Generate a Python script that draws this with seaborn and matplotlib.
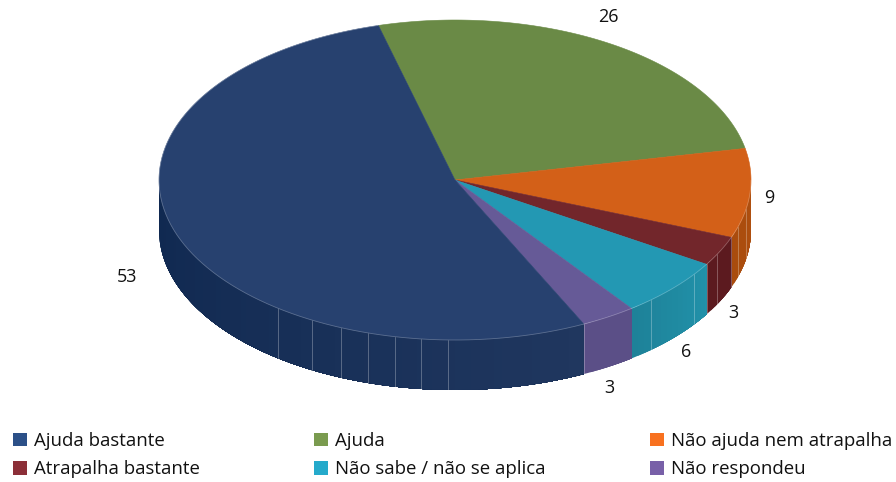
import numpy as np
import matplotlib
matplotlib.use("Agg")
import matplotlib.pyplot as plt
from matplotlib.patches import Patch
from matplotlib.colors import to_rgb
import seaborn as sns

categories = ["Ajuda bastante", "Ajuda", "Não ajuda nem atrapalha",
              "Atrapalha bastante", "Não sabe / não se aplica", "Não respondeu"]
values = [53, 26, 9, 3, 6, 3]
top_colors = ["#27416f", "#6a8a46", "#d36018", "#72262b", "#2398b3", "#665a97"]
side_left = ["#0f2850", "#55702f", "#a94c0d", "#5c1a1f", "#1e8299", "#5b4f87"]
side_right = ["#20375f", "#55702f", "#b05010", "#5c1a1f", "#2192aa", "#5b4f87"]
legend_colors = ["#2c5088", "#7a9b4f", "#f8711f", "#8c2f38", "#25aacb", "#7860a8"]
label_offsets = [(-51, -41), (-3, 27), (19, -5), (13, -62), (13, -64), (1, -71)]
facet_angles = [-126.7, -118.9, -112.6, -107.1, -101.7, -96.6, -91.4,
                -64.2, -48.5, -36.2, -31.8, -27.7, -21.0, -17.0, -10.5]
legend_columns = [(13, [0, 3]), (314, [1, 4]), (650, [2, 5])]

CX, CY, RX, RY, DEPTH = 455, 180, 296, 160, 50

sns.set_theme(style="white")
plt.rcParams["font.family"] = ["Open Sans", "DejaVu Sans"]

fig, ax = plt.subplots(figsize=(8.96, 4.82), dpi=100)
ax.set_position([0, 0, 1, 1])
ax.set_xlim(0, 896)
ax.set_ylim(482, 0)
ax.axis("off")


def rim(deg):
    r = np.radians(deg)
    return CX + RX * np.cos(r), CY - RY * np.sin(r)


# slices run clockwise from the green slice's start at 105 degrees
order = [1, 2, 3, 4, 5, 0]
t = 105.0
spans = {}
for i in order:
    t2 = t - values[i] * 3.6
    spans[i] = (t, t2)
    t = t2

# side walls: overlapping bands, left to right, so no seams show
for i, (a, b) in spans.items():
    hi = min(a, 0.0)
    lo = max(b, -180.0)
    if i == 0:
        hi, lo = a, -180.0
    if hi <= lo:
        continue
    edges = np.arange(lo, hi, 1.5)
    c0 = np.array(to_rgb(side_left[i]))
    c1 = np.array(to_rgb(side_right[i]))
    for e0 in edges:
        f = (e0 - lo) / (hi - lo)
        ang = np.linspace(e0, hi, 60)
        x, y = rim(ang)
        ax.fill(np.r_[x, x[::-1]], np.r_[y, y[::-1] + DEPTH],
                color=c0 + (c1 - c0) * f, lw=0, zorder=2)

for ang in facet_angles:
    x, y = rim(ang)
    ax.plot([x, x], [y, y + DEPTH], color="white", alpha=0.28, lw=0.7, zorder=3)

# top faces
for i, (a, b) in spans.items():
    ang = np.linspace(a, b, 300)
    x, y = rim(ang)
    ax.fill(np.r_[CX, x], np.r_[CY, y], color=top_colors[i], lw=0.4, zorder=4)
    ax.plot(x[ang <= 0], y[ang <= 0], color="white", alpha=0.25, lw=0.6, zorder=5)

# value labels
for i, (a, b) in spans.items():
    x, y = rim((a + b) / 2)
    ax.annotate(str(values[i]), (x, y), xytext=label_offsets[i], textcoords="offset pixels",
                ha="center", va="center", fontsize=13, color="#111111", zorder=6)

# legend: one block per column, each at its own left edge
for left, idx in legend_columns:
    handles = [Patch(facecolor=legend_colors[i], edgecolor="none", label=categories[i]) for i in idx]
    leg = ax.legend(handles=handles, loc="lower left", bbox_to_anchor=(left / 896, 3.5 / 482),
                    bbox_transform=fig.transFigure, frameon=False, fontsize=13.4,
                    handlelength=0.75, handleheight=0.75, handletextpad=0.37,
                    labelspacing=0.56, labelcolor="#111111", borderaxespad=0.0, borderpad=0.0)
    ax.add_artist(leg)
    ax.legend_ = None

fig.savefig("out.png", dpi=100, facecolor="white")
